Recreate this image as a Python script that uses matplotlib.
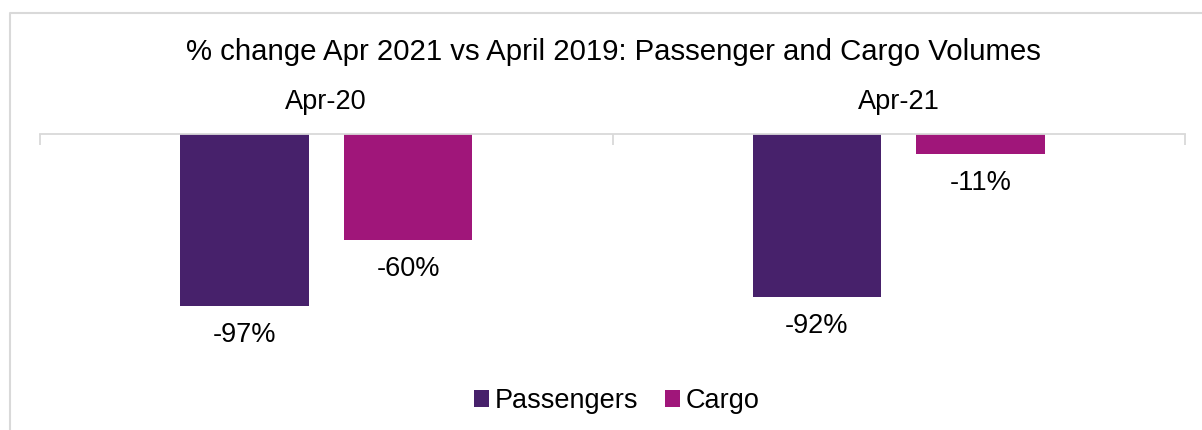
import matplotlib
matplotlib.use("Agg")
import matplotlib.pyplot as plt
from matplotlib.lines import Line2D
import numpy as np

plt.rcParams['font.family'] = ['Liberation Sans', 'DejaVu Sans']

categories = ["Apr-20", "Apr-21"]
passengers = [-97, -92]
cargo = [-60, -11]
series_names = ["Passengers", "Cargo"]
colors = ["#47216B", "#A0167A"]
title = "% change Apr 2021 vs April 2019: Passenger and Cargo Volumes"

W, H = 1202, 430
fig = plt.figure(figsize=(W / 100, H / 100), dpi=100)

# plot area: zero line at y=134 px, from x=40 to x=1185 px
x0, x1 = 40, 1185
y_top = 134
ymin = -120
px_per_unit = 1.773
y_bot = y_top + px_per_unit * (-ymin)
ax = fig.add_axes([x0 / W, 1 - y_bot / H, (x1 - x0) / W, (y_bot - y_top) / H])

label_size = 19.5

x = np.arange(len(categories))
bw = 0.224
off = 0.143
b1 = ax.bar(x - off, passengers, bw, color=colors[0], label=series_names[0])
b2 = ax.bar(x + off, cargo, bw, color=colors[1], label=series_names[1])

for bars, vals in ((b1, passengers), (b2, cargo)):
    for rect, v in zip(bars, vals):
        ax.annotate(f"{v}%", (rect.get_x() + rect.get_width() / 2, v),
                    xytext=(0, -29), textcoords="offset pixels",
                    ha="center", va="center", fontsize=label_size, color="#000000")

ax.set_xlim(-0.5, len(categories) - 0.5)
ax.set_ylim(ymin, 0)
for s in ("left", "right", "bottom"):
    ax.spines[s].set_visible(False)
ax.spines["top"].set_color("#D9D9D9")
ax.spines["top"].set_linewidth(1.3)
ax.set_yticks([])

ax.set_xticks(np.arange(len(categories) + 1) - 0.5)
ax.set_xticklabels([])
ax.set_xticks(x, minor=True)
ax.set_xticklabels(categories, minor=True)
ax.tick_params(axis="x", which="major", top=True, bottom=False, labeltop=False,
               labelbottom=False, direction="in", length=8, width=1.3, color="#D9D9D9")
ax.tick_params(axis="x", which="minor", top=True, bottom=False, labeltop=True,
               labelbottom=False, length=0, pad=14, labelsize=label_size)

fig.text(613 / W, 1 - 52 / H, title, ha="center", va="center", fontsize=21.2)

fig.legend(handles=[b1, b2], labels=series_names, loc="center",
           bbox_to_anchor=(616.5 / W, 1 - 401 / H), ncol=2, frameon=False,
           fontsize=label_size, handlelength=0.55, handleheight=0.55,
           handletextpad=0.2, columnspacing=1.0, borderaxespad=0, borderpad=0)

# chart frame (left and top edges)
fig.add_artist(Line2D([10 / W, 10 / W, 1.0], [0.0, 1 - 13 / H, 1 - 13 / H],
                      transform=fig.transFigure, color="#D9D9D9", linewidth=1.5))

fig.savefig("out.png", dpi=100)
